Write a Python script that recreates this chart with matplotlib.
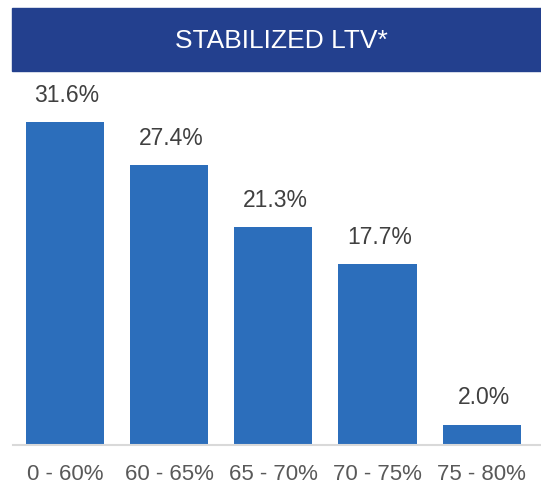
import matplotlib.pyplot as plt
from matplotlib.patches import Rectangle

categories = ['0 - 60%', '60 - 65%', '65 - 70%', '70 - 75%', '75 - 80%']
ltv_share = [31.6, 27.4, 21.3, 17.7, 2.0]
value_labels = ['31.6%', '27.4%', '21.3%', '17.7%', '2.0%']
title = 'STABILIZED LTV*'

W, H = 541, 484
fig = plt.figure(figsize=(W / 100, H / 100), dpi=100)

# title banner
fig.patches.append(Rectangle((12 / W, 1 - 71 / H), 1 - 12 / W, 63 / H,
                             transform=fig.transFigure, color='#23408e', zorder=0))
fig.text(281 / W, 1 - 41 / H, title, color='white', fontsize=19,
         family='Liberation Sans', ha='center', va='center')

ax = fig.add_axes([13 / W, 39 / H, 1 - 13 / W, (445 - 80) / H])
x = range(len(categories))
ax.bar(x, ltv_share, width=0.75, color='#2c6ebb', zorder=2)
for xi, v, lab in zip(x, ltv_share, value_labels):
    ax.text(xi + 0.02, v + 1.5, lab, ha='center', va='bottom', fontsize=16.5,
            color='#404040', family='Liberation Sans')

ax.set_xlim(-0.5, 4.57)
ax.set_ylim(0, 35.7)
ax.set_xticks(list(x))
ax.set_xticklabels(categories, fontsize=16, color='#595959', family='Liberation Sans')
ax.tick_params(axis='x', length=0, pad=14)
ax.set_yticks([])
for s in ['top', 'right', 'left']:
    ax.spines[s].set_visible(False)
ax.spines['bottom'].set_color('#d9d9d9')
ax.spines['bottom'].set_linewidth(1.5)

fig.savefig('out.png', dpi=100)
